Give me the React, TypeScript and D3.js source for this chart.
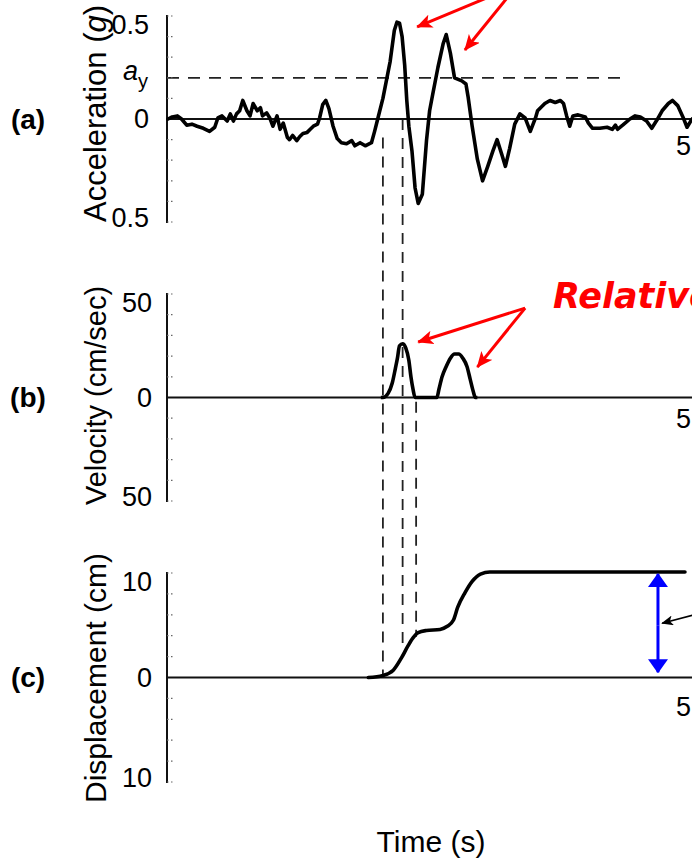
import React from "react";
import * as d3 from "d3";

// ---------- data ----------
const accelTime = [0.01,0.05,0.10,0.14,0.19,0.24,0.29,0.35,0.41,0.46,0.49,0.53,0.58,0.61,0.64,0.67,0.70,0.73,0.77,0.80,0.83,0.87,0.90,0.92,0.96,0.99,1.02,1.06,1.09,1.12,1.16,1.18,1.21,1.25,1.28,1.31,1.35,1.38,1.41,1.45,1.47,1.50,1.53,1.56,1.60,1.64,1.68,1.73,1.78,1.81,1.86,1.91,1.97,2.00,2.03,2.08,2.15,2.19,2.215,2.24,2.265,2.29,2.31,2.33,2.36,2.39,2.42,2.46,2.50,2.53,2.56,2.61,2.66,2.69,2.73,2.77,2.84,2.88,2.90,2.94,2.99,3.04,3.09,3.14,3.18,3.23,3.26,3.30,3.35,3.40,3.45,3.50,3.55,3.57,3.64,3.69,3.74,3.79,3.82,3.85,3.88,3.91,3.96,4.03,4.06,4.10,4.17,4.24,4.29,4.32,4.34,4.39,4.46,4.51,4.56,4.62,4.67,4.72,4.77,4.83,4.87,4.92,4.97,5.01,5.04,5.06];
const accelValue = [0,0.01,0.015,0,-0.03,-0.025,-0.035,-0.045,-0.06,-0.04,0.005,0.015,-0.01,0.025,-0.01,0.025,0.04,0.09,0.04,0.015,0.075,0.04,0.055,0.015,0.03,0.005,-0.035,0.015,-0.05,-0.02,-0.09,-0.10,-0.08,-0.105,-0.085,-0.07,-0.065,-0.05,-0.035,-0.025,0.005,0.07,0.09,0.05,-0.035,-0.095,-0.115,-0.12,-0.105,-0.13,-0.115,-0.13,-0.115,-0.06,0,0.10,0.28,0.43,0.47,0.465,0.40,0.26,0.09,-0.035,-0.155,-0.335,-0.41,-0.365,-0.105,0.04,0.12,0.25,0.365,0.41,0.32,0.20,0.185,0.17,0.11,-0.035,-0.195,-0.30,-0.23,-0.155,-0.10,-0.18,-0.23,-0.145,-0.025,0.025,0.005,-0.06,0.005,0.04,0.075,0.09,0.08,0.09,0.075,0.015,-0.035,0.015,0.02,0.01,-0.02,-0.045,-0.045,-0.04,-0.05,-0.03,-0.05,-0.03,0,0.015,0.01,-0.01,-0.045,-0.005,0.04,0.075,0.09,0.065,0.01,-0.04,-0.015,0];

const velTime = [2.06,2.08,2.13,2.17,2.20,2.22,2.24,2.27,2.30,2.33,2.35,2.37,2.39,2.60,2.62,2.65,2.69,2.73,2.77,2.81,2.85,2.89,2.92,2.95,2.97,2.99];
const velValue = [0,0,2,7,14,19,25,26,24,18,10,4,0,0,4,10,15,19,21,21,19,15,9,3,0,0];

const dispTime = [1.94,2.08,2.18,2.26,2.32,2.37,2.42,2.50,2.63,2.70,2.76,2.80,2.87,2.94,3.02,3.11,3.28,4.99];
const dispValue = [0,0.2,0.7,1.9,3.0,3.8,4.3,4.5,4.6,4.9,5.5,6.7,8.1,9.2,9.9,10.1,10.1,10.1];

const accelTicks = [-0.5,-0.4,-0.3,-0.2,-0.1,0,0.1,0.2,0.3,0.4,0.5];
const velTicks = [-50,-40,-30,-20,-10,0,10,20,30,40,50];
const dispTicks = [-10,-8,-6,-4,-2,0,2,4,6,8,10];
const accelTickLabels = ["0.5", "0", "0.5"];
const velTickLabels = ["50", "0", "50"];
const dispTickLabels = ["10", "0", "10"];
const timeTickLabel = "5";
const yieldAccel = 0.2;
const markerTimes = [2.08, 2.27, 2.40];

// ---------- layout ----------
const W = 692;
const H = 859;
const x = d3.scaleLinear().domain([0, 5]).range([167, 686]);
const yA = d3.scaleLinear().domain([-0.5, 0.5]).range([222, 16]);
const yV = d3.scaleLinear().domain([-50, 50]).range([501, 294]);
const yD = d3.scaleLinear().domain([-10, 10]).range([782, 573]);
const tEnd = 5.1;

const font = "'Liberation Sans', Arial, Helvetica, sans-serif";
const tickSize = 27;

function zip(a: number[], b: number[]): [number, number][] {
  return a.map((t, i) => [t, b[i]] as [number, number]);
}

function Panel({ y, ticks, labels, tag, title, titleSize, titleStart, labelX, timeLabelY }: any) {
  const top = y(ticks[ticks.length - 1]);
  const bot = y(ticks[0]);
  const zero = y(0);
  return (
    <g>
      <line x1={x(0)} x2={x(0)} y1={top - 1} y2={bot + 1} stroke="#111" strokeWidth={2} />
      {ticks.map((t: number, i: number) => (
        <line key={i} x1={x(0)} x2={x(0) + 8} y1={y(t)} y2={y(t)} stroke="#666" strokeWidth={1.2} strokeDasharray="1.5,2.5" />
      ))}
      <line x1={x(0)} x2={x(tEnd)} y1={zero} y2={zero} stroke="#111" strokeWidth={2.2} />
      <text x={labelX} y={top + 9} textAnchor="end" dominantBaseline="central" fontSize={tickSize} fontFamily={font}>{labels[0]}</text>
      <text x={labelX} y={zero} textAnchor="end" dominantBaseline="central" fontSize={tickSize} fontFamily={font}>{labels[1]}</text>
      <text x={labelX} y={bot - 4} textAnchor="end" dominantBaseline="central" fontSize={tickSize} fontFamily={font}>{labels[2]}</text>
      <text x={28} y={zero} textAnchor="middle" dominantBaseline="central" fontSize={28} fontWeight="bold" fontFamily={font}>{tag}</text>
      <text transform={`translate(106,${titleStart}) rotate(-90)`} textAnchor="start" fontSize={titleSize} fontFamily={font}>{title}</text>
      <text x={x(5) - 2.5} y={timeLabelY} textAnchor="middle" dominantBaseline="central" fontSize={tickSize} fontFamily={font}>{timeTickLabel}</text>
    </g>
  );
}

export default function App() {
  const lineA = d3.line<[number, number]>().x(d => x(d[0])).y(d => yA(d[1]));
  const lineV = d3.line<[number, number]>().x(d => x(d[0])).y(d => yV(d[1])).curve(d3.curveMonotoneX);
  const lineD = d3.line<[number, number]>().x(d => x(d[0])).y(d => yD(d[1])).curve(d3.curveMonotoneX);

  const dash = "11,8";
  return (
    <svg width={W} height={H} viewBox={`0 0 ${W} ${H}`} style={{ position: "absolute", left: 0, top: 0, background: "#fff" }}>
      <defs>
        <marker id="redHead" viewBox="0 0 16 14" refX="15" refY="7" markerWidth="16" markerHeight="14" markerUnits="userSpaceOnUse" orient="auto">
          <path d="M0,0 L16,7 L0,14 L4,7 z" fill="#ff0000" />
        </marker>
        <marker id="blueHead" viewBox="0 0 14 20" refX="13" refY="10" markerWidth="14" markerHeight="20" markerUnits="userSpaceOnUse" orient="auto">
          <path d="M0,0 L14,10 L0,20 z" fill="#0000ff" />
        </marker>
        <marker id="blackHead" viewBox="0 0 12 10" refX="11" refY="5" markerWidth="12" markerHeight="10" markerUnits="userSpaceOnUse" orient="auto">
          <path d="M0,0 L12,5 L0,10 L3,5 z" fill="#000" />
        </marker>
      </defs>
      <rect x={0} y={0} width={W} height={H} fill="#fff" />

      {/* vertical dashed markers */}
      <line x1={x(markerTimes[0])} x2={x(markerTimes[0])} y1={yA(-0.09)} y2={yD(0)} stroke="#222" strokeWidth={1.8} strokeDasharray={dash} />
      <line x1={x(markerTimes[1])} x2={x(markerTimes[1])} y1={yA(0)} y2={yD(2.6)} stroke="#222" strokeWidth={1.8} strokeDasharray={dash} />
      <line x1={x(markerTimes[2])} x2={x(markerTimes[2])} y1={yV(-2)} y2={yD(3.9)} stroke="#222" strokeWidth={1.8} strokeDasharray={dash} />

      {/* yield acceleration */}
      <line x1={x(0)} x2={x(4.43)} y1={yA(yieldAccel)} y2={yA(yieldAccel)} stroke="#222" strokeWidth={1.8} strokeDasharray="12,9" />
      <text x={148} y={yA(yieldAccel) + 2} textAnchor="end" fontSize={tickSize} fontFamily={font}>
        <tspan fontStyle="italic">a</tspan><tspan fontSize={20} dy={8}>y</tspan>
      </text>

      <Panel y={yA} ticks={accelTicks} labels={accelTickLabels} tag="(a)" title={<><tspan>Acceleration (</tspan><tspan fontStyle="italic">g</tspan><tspan>)</tspan></>} titleSize={31} titleStart={222} labelX={149} timeLabelY={yA(0) + 27} />
      <Panel y={yV} ticks={velTicks} labels={velTickLabels} tag="(b)" title="Velocity (cm/sec)" titleSize={29} titleStart={505} labelX={152} timeLabelY={yV(0) + 21} />
      <Panel y={yD} ticks={dispTicks} labels={dispTickLabels} tag="(c)" title="Displacement (cm)" titleSize={30} titleStart={803} labelX={152} timeLabelY={yD(0) + 29} />

      {/* traces */}
      <path d={lineA(zip(accelTime, accelValue)) || ""} fill="none" stroke="#000" strokeWidth={3.6} strokeLinejoin="round" strokeLinecap="round" />
      <path d={lineV(zip(velTime, velValue)) || ""} fill="none" stroke="#000" strokeWidth={3.6} strokeLinejoin="round" />
      <path d={lineD(zip(dispTime, dispValue)) || ""} fill="none" stroke="#000" strokeWidth={3.6} strokeLinejoin="round" strokeLinecap="round" />

      {/* x-axis title */}
      <text x={431} y={852} textAnchor="middle" fontSize={30} fontFamily={font}>Time (s)</text>

      {/* red annotations */}
      <line x1={x(3.09)} y1={yA(0.59)} x2={x(2.41)} y2={yA(0.447)} stroke="#ff0000" strokeWidth={3} markerEnd="url(#redHead)" />
      <line x1={x(3.28)} y1={yA(0.59)} x2={x(2.87)} y2={yA(0.335)} stroke="#ff0000" strokeWidth={3} markerEnd="url(#redHead)" />
      <line x1={x(3.45)} y1={yV(43.2)} x2={x(2.42)} y2={yV(26.8)} stroke="#ff0000" strokeWidth={3} markerEnd="url(#redHead)" />
      <line x1={x(3.45)} y1={yV(43.2)} x2={x(2.99)} y2={yV(14.7)} stroke="#ff0000" strokeWidth={3} markerEnd="url(#redHead)" />
      <text x={553} y={308} fontSize={35} fontWeight="bold" fontStyle="italic" fill="#ff0000" fontFamily="'DejaVu Sans', sans-serif">Relative</text>

      {/* permanent displacement arrow */}
      <line x1={x(4.73)} x2={x(4.73)} y1={yD(5)} y2={yD(9.9)} stroke="#0000ff" strokeWidth={3} markerEnd="url(#blueHead)" />
      <line x1={x(4.73)} x2={x(4.73)} y1={yD(5)} y2={yD(0.5)} stroke="#0000ff" strokeWidth={3} markerEnd="url(#blueHead)" />
      <line x1={x(5.06)} y1={yD(5.95)} x2={x(4.77)} y2={yD(5.2)} stroke="#000" strokeWidth={1.5} markerEnd="url(#blackHead)" />
    </svg>
  );
}
